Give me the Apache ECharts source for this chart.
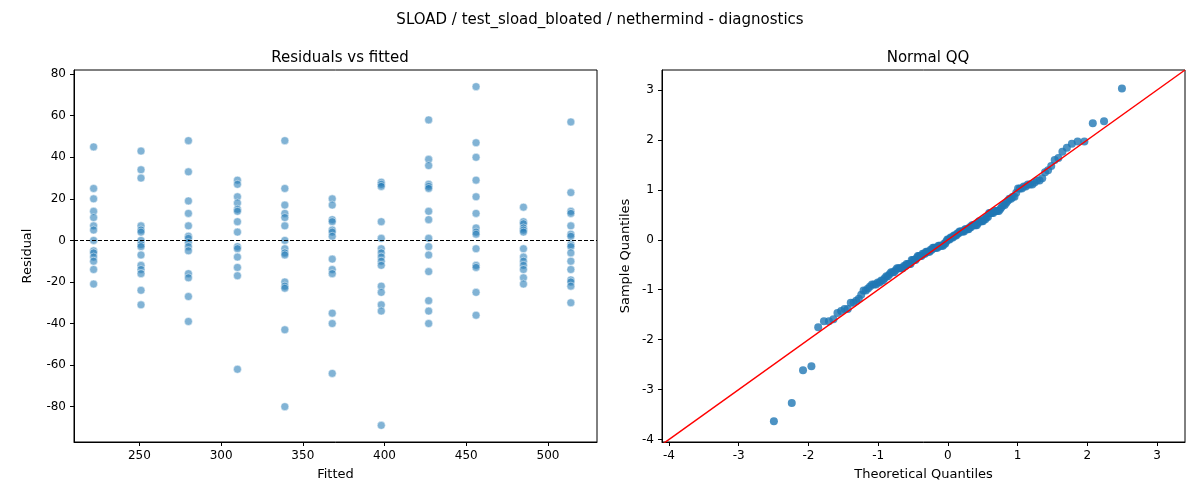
<!DOCTYPE html>
<html>
<head>
<meta charset="utf-8">
<script src="https://cdn.jsdelivr.net/npm/echarts@6/dist/echarts.min.js"></script>
<style>html,body{margin:0;background:#fff}#c{width:1200px;height:500px}</style>
</head>
<body>
<div id="c"></div>
<script>
// fitted levels and residuals
const fittedLevels = [222, 251, 280, 310, 339, 368, 398, 427, 456, 485, 514];
const residuals = [
  [45, 25, 20, 14, 11, 7, 5, 0, -5, -6, -8, -10, -14, -21],
  [43, 34, 30, 7, 5, 4, 0, -2, -3, -7, -12, -14, -16, -24, -31],
  [48, 33, 19, 13, 7, 2, 1, -1, -3, -5, -16, -18, -27, -39],
  [29, 27, 21, 18, 15, 14, 9, 4, -3, -4, -8, -13, -17, -62],
  [48, 25, 17, 13, 11, 7, 0, -4, -6, -7, -20, -22, -23, -43, -80],
  [20, 17, 10, 9, 5, 4, 2, -9, -14, -16, -35, -40, -64],
  [28, 27, 26, 9, 1, -4, -6, -8, -10, -12, -22, -25, -31, -34, -89],
  [58, 39, 36, 27, 26, 25, 14, 10, 1, -3, -7, -15, -29, -34, -40],
  [74, 47, 40, 29, 21, 13, 6, 4, 3, -4, -12, -13, -25, -36],
  [16, 9, 8, 6, 5, 4, -4, -8, -10, -12, -14, -18, -21],
  [57, 23, 14, 13, 7, 3, 2, -2, -3, -6, -10, -14, -19, -20, -22, -30]
];
const qqLine = [[-4.1, -4.1], [3.4, 3.4]];
const xTicksLeft = [250, 300, 350, 400, 450, 500];
const yTicksLeft = [-80, -60, -40, -20, 0, 20, 40, 60, 80];
const xTicksRight = [-4, -3, -2, -1, 0, 1, 2, 3];
const yTicksRight = [-4, -3, -2, -1, 0, 1, 2, 3];

// inverse normal cdf (Acklam)
function ppf(p) {
  const a = [-39.6968302866538, 220.946098424521, -275.928510446969, 138.357751867269, -30.6647980661472, 2.50662827745924];
  const b = [-54.4760987982241, 161.585836858041, -155.698979859887, 66.8013118877197, -13.2806815528857];
  const c = [-0.00778489400243029, -0.322396458041136, -2.40075827716184, -2.54973253934373, 4.37466414146497, 2.93816398269878];
  const d = [0.00778469570904146, 0.32246712907004, 2.445134137143, 3.75440866190742];
  let q, r;
  if (p < 0.02425) {
    q = Math.sqrt(-2 * Math.log(p));
    return (((((c[0]*q+c[1])*q+c[2])*q+c[3])*q+c[4])*q+c[5]) / ((((d[0]*q+d[1])*q+d[2])*q+d[3])*q+1);
  }
  if (p > 1 - 0.02425) return -ppf(1 - p);
  q = p - 0.5; r = q * q;
  return (((((a[0]*r+a[1])*r+a[2])*r+a[3])*r+a[4])*r+a[5])*q / (((((b[0]*r+b[1])*r+b[2])*r+b[3])*r+b[4])*r+1);
}

const resPoints = [];
fittedLevels.forEach((f, i) => residuals[i].forEach(r => resPoints.push([f, r])));

const all = resPoints.map(p => p[1]).sort((a, b) => a - b);
const n = all.length;
const mean = all.reduce((s, v) => s + v, 0) / n;
const sd = Math.sqrt(all.reduce((s, v) => s + (v - mean) ** 2, 0) / (n - 1));
const qqPoints = all.map((v, i) => [ppf((i + 1) / (n + 1)), (v - mean) / sd]);

const font = "DejaVu Sans";
function axis(name, min, max, ticks, gap, idx) {
  return {
    type: "value", gridIndex: idx, min, max, name, nameLocation: "middle", nameGap: gap,
    nameTextStyle: { color: "#000", fontSize: 13, fontFamily: font },
    axisLine: { show: true, onZero: false, lineStyle: { color: "#000" } },
    axisTick: { show: true, length: 4, lineStyle: { color: "#000" }, customValues: ticks },
    axisLabel: { color: "#000", fontSize: 12, fontFamily: font, customValues: ticks },
    splitLine: { show: false }
  };
}
const titleStyle = { fontSize: 15, fontWeight: "normal", fontFamily: font, color: "#000" };

const em = echarts.init(document.getElementById("c"));
em.setOption({
  animation: false,
  title: [
    { text: "SLOAD / test_sload_bloated / nethermind - diagnostics", left: "center", top: 8, textStyle: titleStyle },
    { text: "Residuals vs fitted", left: 335, top: 46, textAlign: "center", textStyle: titleStyle },
    { text: "Normal QQ", left: 923, top: 46, textAlign: "center", textStyle: titleStyle }
  ],
  grid: [
    { left: 74, top: 70, width: 523, height: 372, show: true, borderColor: "#000", borderWidth: 1 },
    { left: 662, top: 70, width: 523, height: 372, show: true, borderColor: "#000", borderWidth: 1 }
  ],
  xAxis: [
    axis("Fitted", 210, 530, xTicksLeft, 26, 0),
    axis("Theoretical Quantiles", -4.1, 3.4, xTicksRight, 26, 1)
  ],
  yAxis: [
    axis("Residual", -97, 82, yTicksLeft, 40, 0),
    axis("Sample Quantiles", -4.05, 3.4, yTicksRight, 30, 1)
  ],
  series: [
    {
      type: "scatter", xAxisIndex: 0, yAxisIndex: 0, data: resPoints, symbolSize: 8,
      itemStyle: { color: "rgba(31,119,180,0.7)", borderColor: "#fff", borderWidth: 0.6 },
      markLine: {
        silent: true, symbol: "none", label: { show: false },
        lineStyle: { color: "#000", type: [4, 2], width: 1 },
        data: [{ yAxis: 0 }]
      }
    },
    {
      type: "scatter", xAxisIndex: 1, yAxisIndex: 1, data: qqPoints, symbolSize: 8,
      itemStyle: { color: "#1f77b4" }
    },
    {
      type: "line", xAxisIndex: 1, yAxisIndex: 1, data: qqLine, symbol: "none",
      lineStyle: { color: "#ff0000", width: 1.5 }
    }
  ]
});
</script>
</body>
</html>
